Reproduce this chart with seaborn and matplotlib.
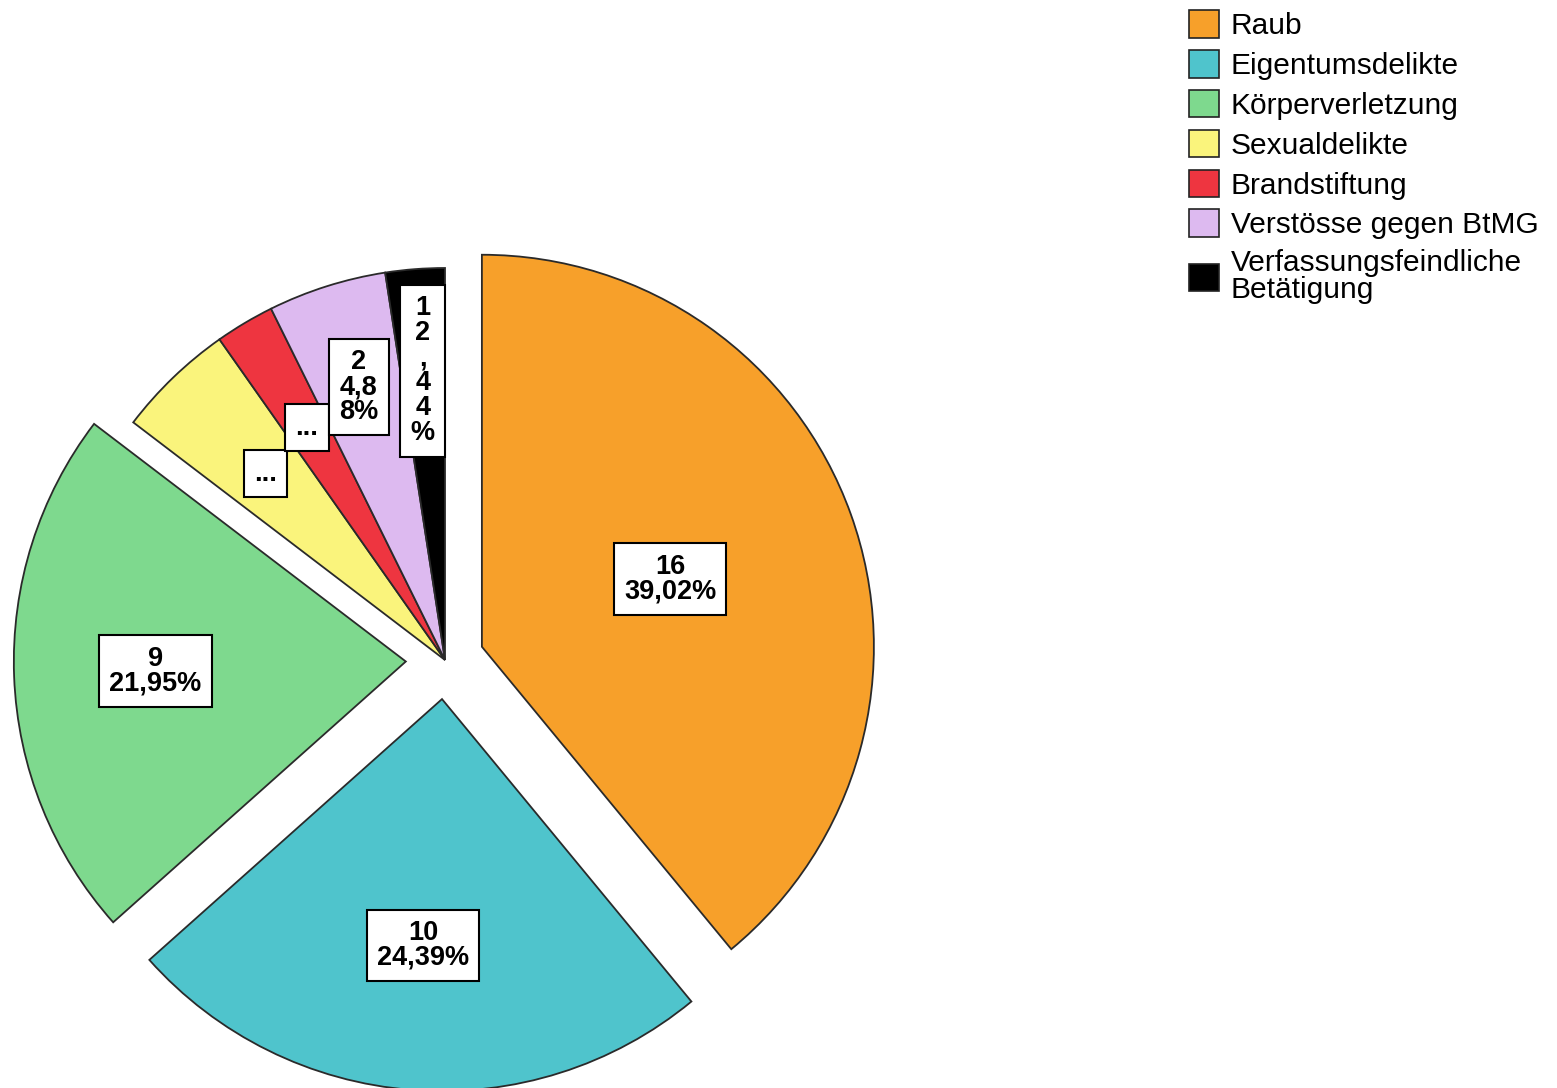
import numpy as np
import matplotlib
matplotlib.use("Agg")
import matplotlib.pyplot as plt
import matplotlib.patches as mpatches
import seaborn as sns

# data
categories = ['Raub', 'Eigentumsdelikte', 'Körperverletzung', 'Sexualdelikte',
              'Brandstiftung', 'Verstösse gegen BtMG', 'Verfassungsfeindliche\nBetätigung']
counts = [16, 10, 9, 2, 1, 2, 1]
# labels as shown in the boxes (small slices wrapped / truncated)
label_texts = ['16\n39,02%', '10\n24,39%', '9\n21,95%', '...', '...', '2\n4,8\n8%', '1\n2\n,\n4\n4\n%']
colors = ['#F7A02A', '#4FC4CC', '#7ED98E', '#FAF47C', '#EE3540', '#DDBAF0', '#000000']
explode_frac = [0.1, 0.1, 0.1, 0, 0, 0, 0]
label_frac = [0.51, 0.63, 0.64, 0.66, 0.69, 0.73, 0.74]

sns.set_theme(style='white')
plt.rcParams['font.family'] = ['Liberation Sans', 'DejaVu Sans']
plt.rcParams['text.color'] = 'black'

W, H = 1557, 1088
fig = plt.figure(figsize=(W / 100, H / 100), dpi=100)
ax = fig.add_axes([0, 0, 1, 1])

R = 392
# explode in pie() is in data units, so scale by the radius
wedges, _ = ax.pie(counts, colors=colors, explode=[e * R for e in explode_frac],
                   startangle=90, counterclock=False,
                   center=(445, H - 660), radius=R,
                   wedgeprops=dict(edgecolor='#2a2a2a', linewidth=1.3))
# pie() resets the limits, so set them afterwards
ax.set_xlim(0, W)
ax.set_ylim(0, H)
ax.set_aspect('equal')
ax.axis('off')

for w, txt, f in zip(wedges, label_texts, label_frac):
    mid = np.deg2rad((w.theta1 + w.theta2) / 2)
    cx, cy = w.center
    x = cx + f * w.r * np.cos(mid)
    y = cy + f * w.r * np.sin(mid)
    ax.text(x, y, txt, ha='center', va='center', fontsize=19.5, fontweight='bold',
            linespacing=0.95, color='black',
            bbox=dict(boxstyle='square,pad=0.38', fc='white', ec='black', lw=1.5))

handles = [mpatches.Patch(facecolor=c, edgecolor='#222222', linewidth=1.2) for c in colors]
leg = fig.legend(handles, categories, loc='upper left', bbox_to_anchor=(1189 / W, 1 - 10 / H),
                 frameon=False, fontsize=21.5, handlelength=1.0, handleheight=1.05,
                 handletextpad=0.4, labelspacing=0.33, borderpad=0, borderaxespad=0)
for t in leg.get_texts():
    t.set_color('black')
leg.get_texts()[-1].set_linespacing(0.95)

fig.savefig('out.png', dpi=100, facecolor='white')
